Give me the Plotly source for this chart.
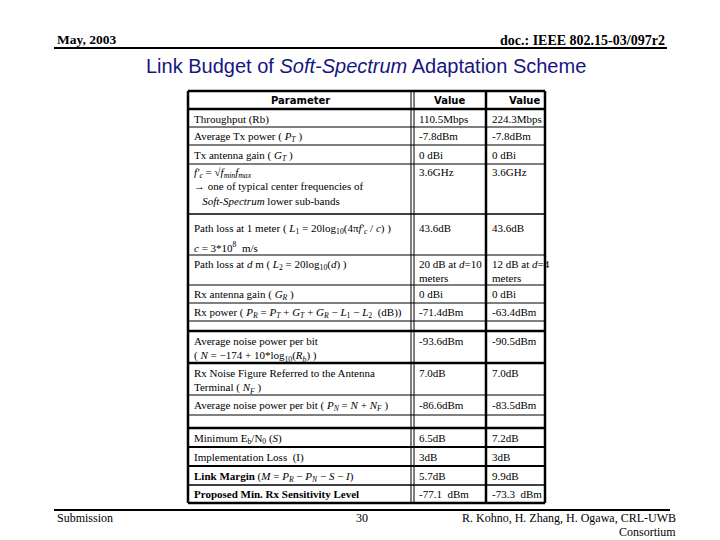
import plotly.graph_objects as go

# table contents
params = [
    "Throughput (Rb)",
    "Average Tx power ( <i>P<sub>T</sub></i> )",
    "Tx antenna gain ( <i>G<sub>T</sub></i> )",
    "<i>f'<sub>c</sub></i> = √<i>f<sub>min</sub>f<sub>max</sub></i><br>→ one of typical center frequencies of<br>\u00a0\u00a0\u00a0<i>Soft-Spectrum</i> lower sub-bands",
    "Path loss at 1 meter ( <i>L</i><sub>1</sub> = 20log<sub>10</sub>(4π<i>f'<sub>c</sub></i> / <i>c</i>) )",
    "<i>c</i> = 3*10<sup>8</sup>\u00a0 m/s",
    "Path loss at <i>d</i> m ( <i>L</i><sub>2</sub> = 20log<sub>10</sub>(<i>d</i>) )",
    "Rx antenna gain ( <i>G<sub>R</sub></i> )",
    "Rx power ( <i>P<sub>R</sub></i> = <i>P<sub>T</sub></i> + <i>G<sub>T</sub></i> + <i>G<sub>R</sub></i> − <i>L</i><sub>1</sub> − <i>L</i><sub>2</sub>\u00a0 (dB))",
    "Average noise power per bit<br>( <i>N</i> = −174 + 10*log<sub>10</sub>(<i>R<sub>b</sub></i>) )",
    "Rx Noise Figure Referred to the Antenna<br>Terminal ( <i>N<sub>F</sub></i> )",
    "Average noise power per bit ( <i>P<sub>N</sub></i> = <i>N</i> + <i>N<sub>F</sub></i> )",
    "Minimum E<sub>b</sub>/N<sub>0</sub> (<i>S</i>)",
    "Implementation Loss\u00a0 (I)",
    "<b>Link Margin</b> (<i>M</i> = <i>P<sub>R</sub></i> − <i>P<sub>N</sub></i> − <i>S</i> − <i>I</i>)",
    "<b>Proposed Min. Rx Sensitivity Level</b>",
]
values_a = ["110.5Mbps", "-7.8dBm", "0 dBi", "3.6GHz", "43.6dB", "",
            "20 dB at <i>d</i>=10<br>meters", "0 dBi", "-71.4dBm", "-93.6dBm",
            "7.0dB", "-86.6dBm", "6.5dB", "3dB", "5.7dB", "-77.1\u00a0 dBm"]
values_b = ["224.3Mbps", "-7.8dBm", "0 dBi", "3.6GHz", "43.6dB", "",
            "12 dB at <i>d</i>=4<br>meters", "0 dBi", "-63.4dBm", "-90.5dBm",
            "7.0dB", "-83.5dBm", "7.2dB", "3dB", "9.9dB", "-73.3\u00a0 dBm"]
headers = ["Parameter", "Value", "Value"]

# layout (pixel positions on the slide)
text_y = [118, 135, 154, 171, 227, 245, 263, 293, 311, 340, 372, 404, 437, 456, 475, 493]
h_lines = [(91, 2.5), (109, 2.5), (127, 1), (145, 1), (164, 1), (214, 1.5), (255, 1),
           (285, 1), (303, 1), (321, 1), (331, 2.5), (363, 2.5), (395, 1), (415, 1),
           (428, 2.5), (447, 2), (466, 2), (485, 1.5), (503, 2.5)]
v_lines = [(188, 2.5), (411, 1), (414, 1), (486, 2.5), (545, 2.5)]
col_x = [192, 417, 490]
head_x = [300, 449, 524]

serif = "Liberation Serif, Times New Roman, serif"
fig = go.Figure()

shapes = []
for y, w in h_lines:
    shapes.append(dict(type="line", x0=188, x1=545, y0=y, y1=y, line=dict(color="black", width=w)))
for x, w in v_lines:
    shapes.append(dict(type="line", x0=x, x1=x, y0=91, y1=503, line=dict(color="black", width=w)))
# slide header / footer rules
shapes.append(dict(type="line", x0=54, x1=667, y0=48, y1=48, line=dict(color="black", width=2)))
shapes.append(dict(type="line", x0=54, x1=670, y0=510, y1=510, line=dict(color="black", width=2)))

ann = []
for hx, h in zip(head_x, headers):
    ann.append(dict(x=hx, y=100, text="<b>" + h + "</b>", xanchor="center", yanchor="middle",
                    font=dict(family="DejaVu Sans", size=10, color="black")))
for ty, p, a, b in zip(text_y, params, values_a, values_b):
    for cx, t in zip(col_x, [p, a, b]):
        if t:
            ann.append(dict(x=cx, y=ty - 7, text=t, xanchor="left", yanchor="top", align="left",
                            font=dict(family=serif, size=11, color="black")))

ann += [
    dict(x=55, y=39, text="<b>May, 2003</b>", xanchor="left", yanchor="middle",
         font=dict(family=serif, size=13.5, color="black")),
    dict(x=667, y=40, text="<b>doc.: IEEE 802.15-03/097r2</b>", xanchor="right", yanchor="middle",
         font=dict(family=serif, size=14, color="black")),
    dict(x=366, y=66, text="Link Budget of <i>Soft-Spectrum</i> Adaptation Scheme", xanchor="center",
         yanchor="middle", font=dict(family="Liberation Sans, Arial", size=20, color="#161682")),
    dict(x=55, y=518, text="Submission", xanchor="left", yanchor="middle",
         font=dict(family=serif, size=12, color="black")),
    dict(x=362, y=518, text="30", xanchor="center", yanchor="middle",
         font=dict(family=serif, size=12, color="black")),
    dict(x=678, y=518, text="R. Kohno, H. Zhang, H. Ogawa, CRL-UWB", xanchor="right", yanchor="middle",
         font=dict(family=serif, size=12, color="black")),
    dict(x=678, y=532, text="Consortium", xanchor="right", yanchor="middle",
         font=dict(family=serif, size=12, color="black")),
]
for a in ann:
    a.update(xref="x", yref="y", showarrow=False)

fig.update_layout(
    width=720, height=540,
    margin=dict(l=0, r=0, t=0, b=0),
    paper_bgcolor="white", plot_bgcolor="white",
    shapes=shapes, annotations=ann, showlegend=False,
)
# the page body has an 8px margin, so shift the ranges to land on slide pixels
fig.update_xaxes(range=[8, 728], visible=False, fixedrange=True)
fig.update_yaxes(range=[548, 8], visible=False, fixedrange=True)
fig.write_html("out.html")
